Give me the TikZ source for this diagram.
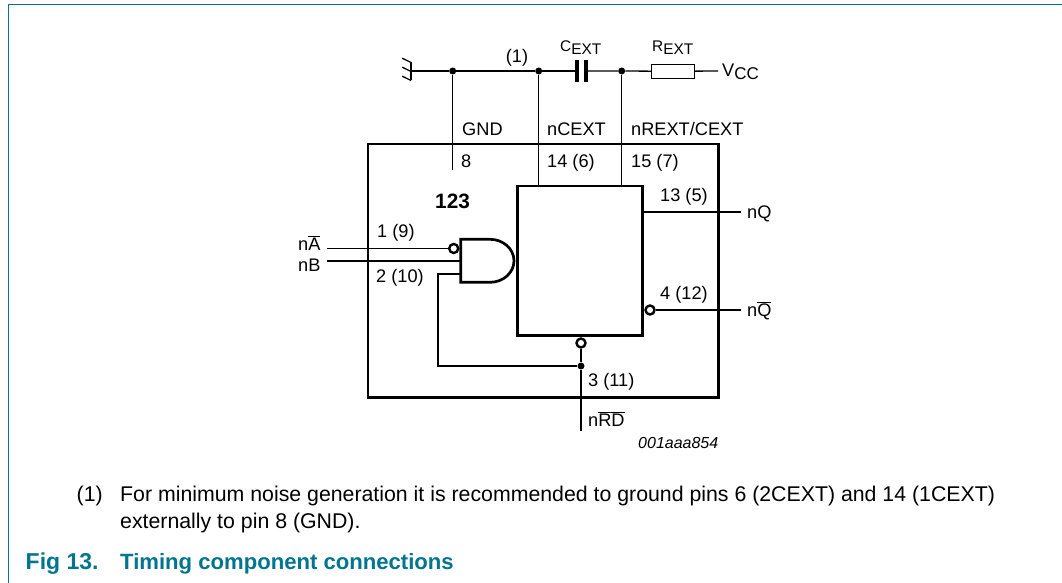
\documentclass[tikz,border=0pt]{standalone}
\usepackage{fontspec}
\setmainfont{Liberation Sans}
\usepackage{tikz}
\usetikzlibrary{calc}
\definecolor{figteal}{HTML}{00758F}
\tikzset{
  wire/.style={line width=1.3pt},
  heavy/.style={line width=2.7pt},
  dotnode/.style={circle,fill=black,inner sep=0pt,minimum size=7pt},
  bubble/.style={circle,draw,line width=2.4pt,fill=white,inner sep=0pt,minimum size=9pt},
  pinlabel/.style={inner sep=0pt,font=\fontsize{18.2}{18}\selectfont},
  partlabel/.style={inner sep=0pt,font=\fontsize{15.4}{16}\selectfont},
  body/.style={inner sep=0pt,font=\fontsize{21.3}{22}\selectfont}
}
\begin{document}
\begin{tikzpicture}[x=1pt,y=-1pt]
\useasboundingbox (0,0) rectangle (1062,583);
% frame
\draw[figteal,line width=1.4pt] (8.3,583) -- (8.3,4.7) -- (1062,4.7);
% junctions and free ends
\node[dotnode] (J1) at (452.7,71) {};
\node[dotnode] (J2) at (538.7,71) {};
\node[dotnode] (J3) at (621.7,71) {};
\node[dotnode] (J4) at (581,366) {};
\coordinate (G) at (411,71);
\coordinate (CL) at (577,71);
\coordinate (CR) at (586,71);
\coordinate (VE) at (718,71);
\node[draw,wire,minimum width=42.6pt,minimum height=14pt,inner sep=0pt] (R) at (673,71.3) {};
% ground
\draw[wire] (G) -- (J1) -- (J2) -- (CL);
\draw[wire] (CR) -- (J3) -- (R);
\draw[wire] (R) -- (VE);
\draw[wire] (411,62.5) -- (411,80.5);
\foreach \y in {62.5,71.5,80.5} \draw[wire] (411,\y) -- (402.3,\y-4.3);
% capacitor
\draw[line width=3.5pt] (CL|-0,60.5) -- (CL|-0,81.7);
\draw[line width=3.5pt] (CR|-0,60.5) -- (CR|-0,81.7);
% IC
\node[draw,heavy,minimum width=350.3pt,minimum height=253.3pt,inner sep=0pt] (IC) at (543.2,270.7) {};
\node[draw,heavy,minimum width=125.6pt,minimum height=149.7pt,inner sep=0pt] (FF) at (580,260.8) {};
\draw[wire] (J1) -- (J1|-0,170);
\draw[wire] (J2) -- (J2|-FF.north);
\draw[wire] (J3) -- (J3|-FF.north);
% gate
\draw[heavy] (460.7,239.3) -- (490,239.3) arc (-90:90:24 and 21.5) -- (460.7,282.3) -- cycle;
\node[bubble] (BA) at (453.7,248.5) {};
\coordinate (GB) at (460.7,261);
\coordinate (GC) at (460.7,274);
\coordinate (IA) at (327,248.5);
\coordinate (IB) at (327,261);
\draw[wire] (IA) -- (BA);
\draw[wire] (IB) -- (GB);
\draw[wire] (GC) -- (438,274) -- (438,366) -- (J4);
% outputs
\coordinate (OQ) at (741,212);
\coordinate (ONQ) at (741,310);
\coordinate (ORD) at (581,431);
\node[bubble] (BQ) at (650,310) {};
\node[bubble] (BR) at (581,343) {};
\draw[wire] (FF.east|-OQ) -- (OQ);
\draw[wire] (BQ) -- (ONQ);
\draw[wire] (BR) -- (J4) -- (ORD);
% labels
\node[pinlabel,anchor=base] (L1) at (517,62.7) {(1)};
\node[partlabel,anchor=base west] (LC) at (560,51.7) {C\raisebox{-3pt}{EXT}};
\node[partlabel,anchor=base west] (LR) at (652,52) {R\raisebox{-3pt}{EXT}};
\node[pinlabel,anchor=base west] (VCC) at (722,76.7) {V\raisebox{-2.7pt}{\fontsize{17}{17}\selectfont CC}};
\node[pinlabel,anchor=base west] at (462,135.5) {GND};
\node[pinlabel,anchor=base west] at (547,135.5) {nCEXT};
\node[pinlabel,anchor=base west] at (631,135.5) {nREXT/CEXT};
\node[pinlabel,anchor=base west] at (461,167) {8};
\node[pinlabel,anchor=base west] at (547,167) {14 (6)};
\node[pinlabel,anchor=base west] at (631,167) {15 (7)};
\node[pinlabel,anchor=base west] at (660,201) {13 (5)};
\node[pinlabel,anchor=base west] at (660,299) {4 (12)};
\node[pinlabel,anchor=base west] at (377,237) {1 (9)};
\node[pinlabel,anchor=base west] at (376,282) {2 (10)};
\node[pinlabel,anchor=base west] at (588,386.5) {3 (11)};
\node[pinlabel,anchor=base west,font=\fontsize{20.8}{20}\bfseries] at (435,208.5) {123};
\node[pinlabel,anchor=base west] at (298,250) {n$\overline{\mbox{A}}$};
\node[pinlabel,anchor=base west] at (298,271) {nB};
\node[pinlabel,anchor=base west] at (747,218) {nQ};
\node[pinlabel,anchor=base west] at (747,316) {n$\overline{\mbox{Q}}$};
\node[pinlabel,anchor=base west] at (588,426) {n$\overline{\mbox{RD}}$};
\node[pinlabel,anchor=base west,font=\fontsize{16}{16}\itshape] at (638,448.5) {001aaa854};
% note and caption
\node[body,anchor=base west] at (76.5,501.7) {(1)};
\node[body,anchor=base west] at (120,501.7) {For minimum noise generation it is recommended to ground pins 6 (2CEXT) and 14 (1CEXT)};
\node[body,anchor=base west] at (120,528) {externally to pin 8 (GND).};
\node[anchor=base west,inner sep=0pt,text=figteal,font=\fontsize{23}{22}\bfseries] at (25.5,569.7) {Fig 13.};
\node[anchor=base west,inner sep=0pt,text=figteal,font=\fontsize{22.1}{22}\bfseries] at (120,569.7) {Timing component connections};
\end{tikzpicture}
\end{document}
